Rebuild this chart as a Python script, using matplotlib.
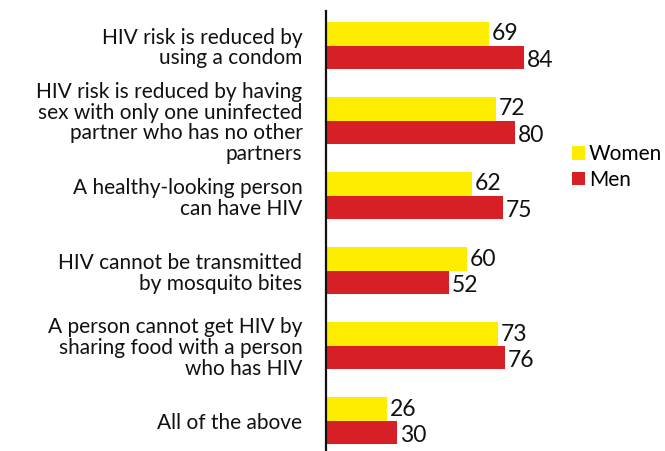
import matplotlib
matplotlib.use("Agg")
import matplotlib.pyplot as plt
from matplotlib.patches import Patch
import numpy as np

plt.rcParams['font.family'] = ['Lato', 'DejaVu Sans']

categories = [
    "HIV risk is reduced by\nusing a condom",
    "HIV risk is reduced by having\nsex with only one uninfected\npartner who has no other\npartners",
    "A healthy-looking person\ncan have HIV",
    "HIV cannot be transmitted\nby mosquito bites",
    "A person cannot get HIV by\nsharing food with a person\nwho has HIV",
    "All of the above",
]
women = [69, 72, 62, 60, 73, 26]
men = [84, 80, 75, 52, 76, 30]

YELLOW = "#FFED00"
RED = "#D71F26"

W, H = 665, 451
fig = plt.figure(figsize=(W / 100, H / 100), dpi=100)
ax = fig.add_axes([326 / W, 0, 235.7 / W, 1 - 11 / H])

y = np.arange(len(categories))
bh = 0.313
ax.barh(y - bh / 2, women, height=bh, color=YELLOW, edgecolor="none")
ax.barh(y + bh / 2, men, height=bh, color=RED, edgecolor="none")

vfs = 16.5
for yi, v in zip(y, women):
    ax.text(v + 1.2, yi - bh / 2, str(v), va="center", ha="left", fontsize=vfs, color="#111111")
for yi, v in zip(y, men):
    ax.text(v + 1.2, yi + bh / 2 + 0.04, str(v), va="center", ha="left", fontsize=vfs, color="#111111")

ax.set_xlim(0, 100)
ax.set_ylim(len(categories) - 1 + 0.40, -0.46)
ax.set_xticks([])
ax.set_yticks(y)
ax.set_yticklabels(categories, fontsize=15, linespacing=1.05, multialignment="right", color="#111111")
ax.tick_params(axis="y", length=0, pad=17)
for s in ["top", "right", "bottom"]:
    ax.spines[s].set_visible(False)
ax.spines["left"].set_linewidth(1.6)
ax.spines["left"].set_color("#111111")
ax.set_facecolor("none")

handles = [Patch(facecolor=YELLOW, label="Women"), Patch(facecolor=RED, label="Men")]
fig.legend(handles=handles, loc="center left", bbox_to_anchor=(564 / W, 1 - 167 / H),
           frameon=False, fontsize=15, handlelength=0.6, handleheight=0.6,
           handletextpad=0.2, labelspacing=0.25, borderaxespad=0)

fig.savefig("out.png", dpi=100)
